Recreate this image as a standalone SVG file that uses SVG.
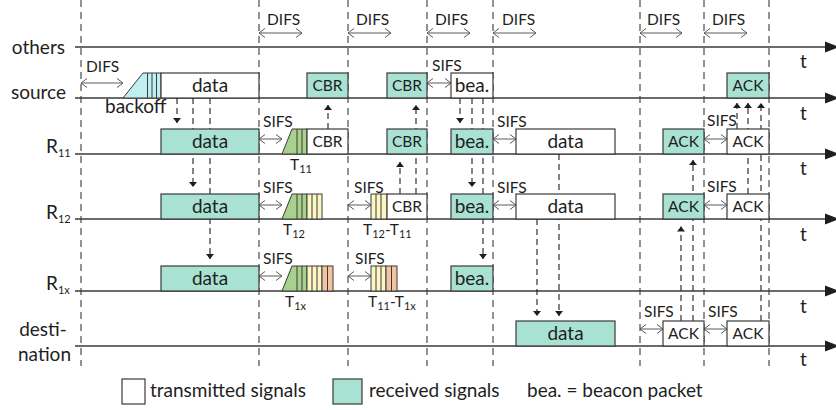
<svg xmlns="http://www.w3.org/2000/svg" width="836" height="410" viewBox="0 0 836 410">
  <defs>
    <style>
      text { font-family: Lato, "Liberation Sans", sans-serif; fill: #1e1e1e; }
      .lbl { font-size: 19px; }
      .sm { font-size: 15.5px; }
      .sub { font-size: 11px; }
      .c { text-anchor: middle; }
      .e { text-anchor: end; }
      .axis { stroke: #3a3a3a; stroke-width: 1.4; fill: none; }
      .ahead { fill: #1e1e1e; }
      .guide { stroke: #3a3a3a; stroke-width: 1.1; stroke-dasharray: 7 5; fill: none; }
      .conn { stroke: #1e1e1e; stroke-width: 1.1; stroke-dasharray: 6 4; fill: none; marker-end: url(#head); }
      .span { stroke: #5a5a5a; stroke-width: 1; fill: none; marker-start: url(#chev); marker-end: url(#chev); }
      .tx { fill: #ffffff; stroke: #3a3a3a; stroke-width: 1.2; }
      .rx { fill: #a9e2d3; stroke: #3a3a3a; stroke-width: 1.2; }
      .bo { fill: #bfeff1; stroke: #3a3a3a; stroke-width: 1; }
      .gr { fill: #a9d18e; stroke: #3a3a3a; stroke-width: 1; }
      .ye { fill: #fcf6c4; stroke: #3a3a3a; stroke-width: 1; }
      .or { fill: #f6c3a0; stroke: #3a3a3a; stroke-width: 1; }
      .st { stroke: #3a3a3a; stroke-width: 1; fill: none; }
    </style>
    <marker id="head" viewBox="-6 -5 7 10" refX="0" refY="0" markerWidth="7" markerHeight="10" markerUnits="userSpaceOnUse" orient="auto">
      <path d="M-5,-4 L0,0 L-5,4 z" fill="#1e1e1e"/>
    </marker>
    <marker id="chev" viewBox="-8 -6 9 12" refX="0" refY="0" markerWidth="9" markerHeight="12" markerUnits="userSpaceOnUse" orient="auto-start-reverse" overflow="visible">
      <path d="M-6,-4.5 L0,0 L-6,4.5" fill="none" stroke="#5a5a5a" stroke-width="1"/>
    </marker>
  </defs>

  <!-- time slot boundaries -->
  <g id="guides" class="guide">
    <line x1="81" y1="0" x2="81" y2="366"/>
    <line x1="259" y1="0" x2="259" y2="366"/>
    <line x1="348" y1="0" x2="348" y2="366"/>
    <line x1="427" y1="0" x2="427" y2="366"/>
    <line x1="493" y1="0" x2="493" y2="366"/>
    <line x1="640" y1="0" x2="640" y2="366"/>
    <line x1="704" y1="0" x2="704" y2="366"/>
    <line x1="769" y1="0" x2="769" y2="366"/>
  </g>

  <!-- time axes, one per station -->
  <g id="axes">
    <g class="axis">
      <line x1="75" y1="47" x2="827" y2="47"/>
      <line x1="75" y1="98" x2="827" y2="98"/>
      <line x1="75" y1="154" x2="827" y2="154"/>
      <line x1="75" y1="219" x2="827" y2="219"/>
      <line x1="75" y1="291" x2="827" y2="291"/>
      <line x1="75" y1="346" x2="827" y2="346"/>
    </g>
    <g class="ahead">
      <polygon points="825,41.5 839,47 825,52.5"/>
      <polygon points="825,92.5 839,98 825,103.5"/>
      <polygon points="825,148.5 839,154 825,159.5"/>
      <polygon points="825,213.5 839,219 825,224.5"/>
      <polygon points="825,285.5 839,291 825,296.5"/>
      <polygon points="825,340.5 839,346 825,351.5"/>
    </g>
    <g class="lbl">
      <text x="800" y="68">t</text>
      <text x="800" y="120">t</text>
      <text x="800" y="175">t</text>
      <text x="800" y="241">t</text>
      <text x="800" y="313">t</text>
      <text x="800" y="366">t</text>
    </g>
  </g>

  <!-- station names -->
  <g id="stations" class="lbl">
    <text class="e" x="65" y="54">others</text>
    <text class="e" x="66" y="99">source</text>
    <text x="46" y="153">R<tspan class="sub" dy="4">11</tspan></text>
    <text x="46" y="219">R<tspan class="sub" dy="4">12</tspan></text>
    <text x="46" y="290">R<tspan class="sub" dy="4">1x</tspan></text>
    <text class="c" x="43" y="336">desti-</text>
    <text class="c" x="44.5" y="361">nation</text>
  </g>

  <!-- DIFS / SIFS intervals -->
  <g id="intervals">
    <g class="span">
      <line x1="259" y1="33" x2="302" y2="33"/>
      <line x1="348" y1="33" x2="391" y2="33"/>
      <line x1="427" y1="33" x2="470" y2="33"/>
      <line x1="493" y1="33" x2="536" y2="33"/>
      <line x1="640" y1="33" x2="682" y2="33"/>
      <line x1="704" y1="33" x2="747" y2="33"/>
      <line x1="81" y1="83" x2="123" y2="83"/>
      <line x1="427" y1="83" x2="451" y2="83"/>
      <line x1="259" y1="139" x2="282" y2="139"/>
      <line x1="493" y1="139" x2="516" y2="139"/>
      <line x1="704" y1="139" x2="727" y2="139"/>
      <line x1="259" y1="205" x2="282" y2="205"/>
      <line x1="348" y1="205" x2="371" y2="205"/>
      <line x1="493" y1="205" x2="516" y2="205"/>
      <line x1="704" y1="205" x2="727" y2="205"/>
      <line x1="259" y1="276" x2="282" y2="276"/>
      <line x1="348" y1="276" x2="371" y2="276"/>
      <line x1="640" y1="329" x2="663" y2="329"/>
      <line x1="704" y1="329" x2="727" y2="329"/>
    </g>
    <g class="sm">
      <text x="267" y="25">DIFS</text>
      <text x="356" y="25">DIFS</text>
      <text x="435" y="25">DIFS</text>
      <text x="502" y="25">DIFS</text>
      <text x="647" y="25">DIFS</text>
      <text x="712" y="25">DIFS</text>
      <text x="86" y="72">DIFS</text>
      <text x="432" y="71">SIFS</text>
      <text x="263" y="127">SIFS</text>
      <text x="497" y="127">SIFS</text>
      <text x="707" y="126">SIFS</text>
      <text x="263" y="193">SIFS</text>
      <text x="354" y="193">SIFS</text>
      <text x="497" y="193">SIFS</text>
      <text x="707" y="192">SIFS</text>
      <text x="263" y="264">SIFS</text>
      <text x="355" y="264">SIFS</text>
      <text x="644" y="317">SIFS</text>
      <text x="708" y="317">SIFS</text>
    </g>
  </g>

  <!-- forwarding between stations -->
  <g id="connectors">
    <path class="conn" d="M177,98 V123"/>
    <path class="conn" d="M193,98 V187"/>
    <path class="conn" d="M210,98 V259"/>
    <path class="conn" d="M460,98 V123"/>
    <path class="conn" d="M472,98 V187"/>
    <path class="conn" d="M483,98 V259"/>
    <path class="conn" d="M559,154 V316"/>
    <path class="conn" d="M537,219 V316"/>
    <path class="conn" d="M328,129 V105"/>
    <path class="conn" d="M416,194 V105"/>
    <path class="conn" d="M400,194 V162"/>
    <path class="conn" d="M681,321 V226.5"/>
    <path class="conn" d="M693,321 V160"/>
    <path class="conn" d="M737,129 V103"/>
    <path class="conn" d="M748,194 V103"/>
    <path class="conn" d="M761,321 V103"/>
  </g>

  <!-- source -->
  <g id="src-backoff">
    <polygon class="bo" points="123,98 143,73 161,73 161,98"/>
    <path class="st" d="M147.5,73 V98 M152,73 V98 M156.5,73 V98"/>
  </g>
  <g id="src-data"><rect class="tx" x="161" y="73" width="98" height="25"/><text class="lbl c" x="210" y="91.5">data</text></g>
  <g id="src-cbr1"><rect class="rx" x="307" y="73" width="41" height="25"/><text class="sm c" x="327.5" y="91">CBR</text></g>
  <g id="src-cbr2"><rect class="rx" x="387" y="73" width="40" height="25"/><text class="sm c" x="407" y="91">CBR</text></g>
  <g id="src-bea"><rect class="tx" x="451" y="73" width="42" height="25"/><text class="lbl c" x="472" y="91.5">bea.</text></g>
  <g id="src-ack"><rect class="rx" x="727" y="73" width="42" height="25"/><text class="sm c" x="748" y="91">ACK</text></g>
  <text class="lbl" x="105" y="113">backoff</text>

  <!-- relay R11 -->
  <g id="r11-data"><rect class="rx" x="161" y="129" width="98" height="25"/><text class="lbl c" x="210" y="147.5">data</text></g>
  <g id="r11-contention">
    <polygon class="gr" points="282,154 292,129 307,129 307,154"/>
    <path class="st" d="M297,129 V154 M302,129 V154"/>
  </g>
  <g id="r11-cbr1"><rect class="tx" x="307" y="129" width="41" height="25"/><text class="sm c" x="327.5" y="147">CBR</text></g>
  <g id="r11-cbr2"><rect class="rx" x="387" y="129" width="40" height="25"/><text class="sm c" x="407" y="147">CBR</text></g>
  <g id="r11-bea"><rect class="rx" x="451" y="129" width="42" height="25"/><text class="lbl c" x="472" y="147.5">bea.</text></g>
  <g id="r11-data2"><rect class="tx" x="516" y="129" width="99" height="25"/><text class="lbl c" x="565.5" y="147.5">data</text></g>
  <g id="r11-ack1"><rect class="rx" x="663" y="129" width="41" height="25"/><text class="sm c" x="683.5" y="147">ACK</text></g>
  <g id="r11-ack2"><rect class="tx" x="727" y="129" width="42" height="25"/><text class="sm c" x="748" y="147">ACK</text></g>
  <text class="sm" x="290" y="170">T<tspan class="sub" dy="3">11</tspan></text>

  <!-- relay R12 -->
  <g id="r12-data"><rect class="rx" x="161" y="194" width="98" height="25"/><text class="lbl c" x="210" y="212.5">data</text></g>
  <g id="r12-contention">
    <polygon class="gr" points="282,219 292,194 307,194 307,219"/>
    <rect class="ye" x="307" y="194" width="15" height="25"/>
    <path class="st" d="M297,194 V219 M302,194 V219 M312,194 V219 M317,194 V219"/>
  </g>
  <g id="r12-contention2">
    <rect class="ye" x="371" y="194" width="16" height="25"/>
    <path class="st" d="M376,194 V219 M381,194 V219"/>
  </g>
  <g id="r12-cbr"><rect class="tx" x="387" y="194" width="40" height="25"/><text class="sm c" x="407" y="212">CBR</text></g>
  <g id="r12-bea"><rect class="rx" x="451" y="194" width="42" height="25"/><text class="lbl c" x="472" y="212.5">bea.</text></g>
  <g id="r12-data2"><rect class="tx" x="516" y="194" width="99" height="25"/><text class="lbl c" x="565.5" y="212.5">data</text></g>
  <g id="r12-ack1"><rect class="rx" x="663" y="194" width="41" height="25"/><text class="sm c" x="683.5" y="212">ACK</text></g>
  <g id="r12-ack2"><rect class="tx" x="727" y="194" width="42" height="25"/><text class="sm c" x="748" y="212">ACK</text></g>
  <text class="sm" x="283" y="235">T<tspan class="sub" dy="3">12</tspan></text>
  <text class="sm" x="363" y="235">T<tspan class="sub" dy="3">12</tspan><tspan dy="-3">-T</tspan><tspan class="sub" dy="3">11</tspan></text>

  <!-- relay R1x -->
  <g id="r1x-data"><rect class="rx" x="161" y="266" width="98" height="25"/><text class="lbl c" x="210" y="284.5">data</text></g>
  <g id="r1x-contention">
    <polygon class="gr" points="282,291 292,266 307,266 307,291"/>
    <rect class="ye" x="307" y="266" width="15" height="25"/>
    <rect class="or" x="322" y="266" width="11" height="25"/>
    <path class="st" d="M297,266 V291 M302,266 V291 M312,266 V291 M317,266 V291 M327.5,266 V291"/>
  </g>
  <g id="r1x-contention2">
    <rect class="ye" x="371" y="266" width="15" height="25"/>
    <rect class="or" x="386" y="266" width="11" height="25"/>
    <path class="st" d="M376,266 V291 M381,266 V291 M391.5,266 V291"/>
  </g>
  <g id="r1x-bea"><rect class="rx" x="451" y="266" width="42" height="25"/><text class="lbl c" x="472" y="284.5">bea.</text></g>
  <text class="sm" x="285" y="307">T<tspan class="sub" dy="3">1x</tspan></text>
  <text class="sm" x="368" y="307">T<tspan class="sub" dy="3">11</tspan><tspan dy="-3">-T</tspan><tspan class="sub" dy="3">1x</tspan></text>

  <!-- destination -->
  <g id="dst-data"><rect class="rx" x="516" y="321" width="99" height="25"/><text class="lbl c" x="565.5" y="339.5">data</text></g>
  <g id="dst-ack1"><rect class="tx" x="663" y="321" width="41" height="25"/><text class="sm c" x="683.5" y="339">ACK</text></g>
  <g id="dst-ack2"><rect class="tx" x="727" y="321" width="42" height="25"/><text class="sm c" x="748" y="339">ACK</text></g>

  <!-- legend -->
  <g id="legend" class="lbl">
    <rect class="tx" x="122" y="379" width="23" height="25"/>
    <text x="150" y="397">transmitted signals</text>
    <rect class="rx" x="333" y="379" width="29" height="25"/>
    <text x="369" y="397">received signals</text>
    <text x="527" y="397">bea. = beacon packet</text>
  </g>
</svg>
